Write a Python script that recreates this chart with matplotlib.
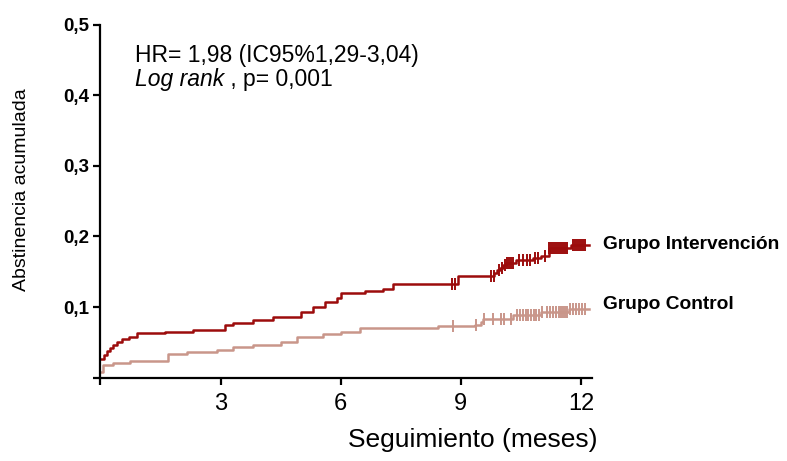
import numpy as np
import matplotlib.pyplot as plt

plt.rcParams['font.family'] = ['Liberation Sans', 'DejaVu Sans']

# Kaplan-Meier (cumulative abstinence)
tInterv = [0, 0.08, 0.16, 0.24, 0.32, 0.42, 0.54, 0.7, 0.91, 1.6, 2.3, 3.1, 3.3, 3.8,
           4.3, 5.0, 5.3, 5.6, 5.9, 6.0, 6.6, 7.05, 7.3, 8.92, 9.83, 9.9, 9.98, 10.05,
           10.13, 10.37, 10.8, 11.0, 11.19, 11.75]
yInterv = [0.027, 0.032, 0.037, 0.042, 0.046, 0.050, 0.054, 0.058, 0.063, 0.065, 0.068,
           0.075, 0.077, 0.082, 0.086, 0.093, 0.100, 0.107, 0.113, 0.120, 0.123, 0.126,
           0.132, 0.144, 0.148, 0.152, 0.156, 0.159, 0.162, 0.166, 0.169, 0.173, 0.184,
           0.188]
censInterv = [8.79, 8.86, 9.75, 9.82, 9.95, 10.02, 10.1, 10.15, 10.2, 10.25, 10.3, 10.45,
              10.55, 10.65, 10.72, 10.85, 10.93, 11.1, 11.2, 11.25, 11.3, 11.35, 11.4,
              11.45, 11.5, 11.55, 11.6, 11.65, 11.8, 11.85, 11.9, 11.95, 12.0, 12.05, 12.1]

tControl = [0, 0.07, 0.31, 0.74, 1.69, 2.16, 2.9, 3.3, 3.8, 4.5, 4.9, 5.56, 6.0, 6.49,
            8.44, 9.36, 9.49, 9.56, 10.3, 11.0, 11.7]
yControl = [0.008, 0.018, 0.021, 0.024, 0.033, 0.036, 0.039, 0.043, 0.046, 0.050, 0.057,
            0.062, 0.065, 0.070, 0.0725, 0.075, 0.079, 0.083, 0.088, 0.093, 0.097]
censControl = [8.8, 9.37, 9.58, 9.8, 9.99, 10.07, 10.24, 10.4, 10.47, 10.55, 10.62, 10.68,
               10.75, 10.82, 10.88, 10.95, 11.03, 11.15, 11.22, 11.3, 11.38, 11.45, 11.5,
               11.55, 11.6, 11.65, 11.72, 11.8, 11.87, 11.94, 12.03, 12.11]

tEnd = 12.2
xTicks = [0, 3, 6, 9, 12]
xTickLabels = ['', '3', '6', '9', '12']
yTicks = [0, 0.1, 0.2, 0.3, 0.4, 0.5]
yTickLabels = ['', '0,1', '0,2', '0,3', '0,4', '0,5']

colInterv = '#9c0c0c'
colControl = '#c9968a'

fig = plt.figure(figsize=(7.87, 4.61), dpi=100)
ax = fig.add_axes([0.1277, 0.181, 0.6243, 0.765])


def km(ax, t, y, cens, col, label, dy):
    ax.step(t + [tEnd], y + [y[-1]], where='post', color=col, lw=1.8, clip_on=False)
    idx = np.searchsorted(t, cens, side='right') - 1
    ax.plot(cens, np.array(y)[idx], ls='none', marker='|', ms=9, mew=1.4,
            color=col, clip_on=False)
    ax.text(12.55, y[-1] + dy, label, fontsize=13.8, fontweight='bold',
            va='center', ha='left', clip_on=False)


km(ax, tInterv, yInterv, censInterv, colInterv, 'Grupo Intervención', 0.0)
km(ax, tControl, yControl, censControl, colControl, 'Grupo Control', 0.006)

ax.set_xlim(0, 12.27)
ax.set_ylim(0, 0.5)
ax.set_xticks(xTicks)
ax.set_xticklabels(xTickLabels, fontsize=17)
ax.set_yticks(yTicks)
ax.set_yticklabels(yTickLabels, fontsize=13.5, fontweight='bold')
ax.tick_params(length=5, width=1.6, pad=3)
ax.tick_params(axis='x', pad=6)
for s in ['top', 'right']:
    ax.spines[s].set_visible(False)
for s in ['left', 'bottom']:
    ax.spines[s].set_linewidth(1.6)

hr = ax.text(0.86, 0.457, 'HR= 1,98 (IC95%1,29-3,04)', fontsize=16.5,
             va='center', ha='left')
lr = ax.text(0.86, 0.422, 'Log rank', style='italic', fontsize=16.5, va='center', ha='left')
ax.annotate(' , p= 0,001', xy=(1, 0), xycoords=lr, fontsize=16.5, va='bottom', ha='left')

fig.text(598 / 787, 1 - 440 / 461, 'Seguimiento (meses)', fontsize=19,
         ha='right', va='center')
fig.text(22 / 787, 1 - 190 / 461, 'Abstinencia acumulada', fontsize=14,
         rotation=90, ha='center', va='center')

fig.savefig('out.png', dpi=100)
